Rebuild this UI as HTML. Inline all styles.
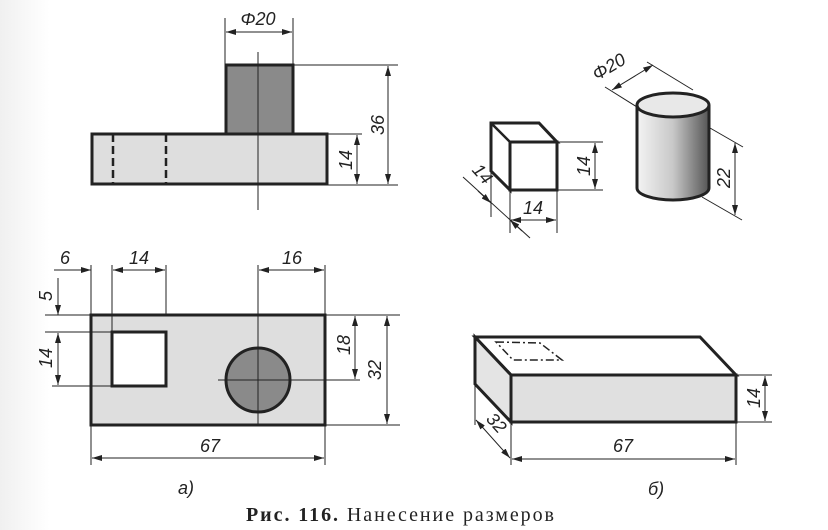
<!DOCTYPE html>
<html><head><meta charset="utf-8"><style>
html,body{margin:0;padding:0;background:#fff}
svg{display:block}
text{font-family:"Liberation Sans",sans-serif;font-style:italic;fill:#222}
</style></head><body>
<svg width="828" height="530" viewBox="0 0 828 530" xmlns="http://www.w3.org/2000/svg">
<defs>
<marker id="a" viewBox="0 0 10 6" refX="10" refY="3" markerWidth="10" markerHeight="6" orient="auto-start-reverse" markerUnits="userSpaceOnUse"><path d="M0,0 L10,3 L0,6 z" fill="#222"/></marker>
<linearGradient id="cyl" x1="0" x2="1" y1="0" y2="0"><stop offset="0" stop-color="#f4f4f4"/><stop offset="0.5" stop-color="#c8c8c8"/><stop offset="1" stop-color="#555"/></linearGradient>
<linearGradient id="bg" x1="0" x2="1"><stop offset="0" stop-color="#f0f0f0"/><stop offset="0.06" stop-color="#fff"/></linearGradient>
</defs>
<rect width="828" height="530" fill="url(#bg)"/>
<g stroke="#222" fill="none" stroke-width="1">
<rect x="92" y="134" width="235" height="50" fill="#dedede" stroke-width="3"/>
<rect x="226" y="65" width="67" height="69" fill="#8a8a8a" stroke-width="3"/>
<line x1="113" y1="134" x2="113" y2="184" stroke-width="2.5" stroke-dasharray="8,4"/>
<line x1="166" y1="134" x2="166" y2="184" stroke-width="2.5" stroke-dasharray="8,4"/>
<line x1="258" y1="52" x2="258" y2="210"/>
<line x1="225" y1="18" x2="225" y2="65"/><line x1="293" y1="18" x2="293" y2="65"/>
<line x1="226" y1="32" x2="292" y2="32" marker-start="url(#a)" marker-end="url(#a)"/>
<line x1="293" y1="65" x2="398" y2="65"/><line x1="327" y1="185" x2="398" y2="185"/>
<line x1="327" y1="134" x2="362" y2="134"/>
<line x1="388" y1="66" x2="388" y2="184" marker-start="url(#a)" marker-end="url(#a)"/>
<line x1="357" y1="135" x2="357" y2="184" marker-start="url(#a)" marker-end="url(#a)"/>
<rect x="91" y="315" width="234" height="110" fill="#dedede" stroke-width="3"/>
<rect x="112" y="332" width="54" height="54" fill="#fff" stroke-width="3"/>
<circle cx="258" cy="380" r="32" fill="#8a8a8a" stroke-width="3"/>
<line x1="258" y1="265" x2="258" y2="425"/>
<line x1="218" y1="380" x2="360" y2="380"/>
<line x1="91" y1="265" x2="91" y2="465"/><line x1="112" y1="265" x2="112" y2="332"/>
<line x1="166" y1="265" x2="166" y2="315"/><line x1="325" y1="265" x2="325" y2="465"/>
<line x1="54" y1="270" x2="91" y2="270" marker-end="url(#a)"/>
<line x1="113" y1="270" x2="165" y2="270" marker-start="url(#a)" marker-end="url(#a)"/>
<line x1="259" y1="270" x2="324" y2="270" marker-start="url(#a)" marker-end="url(#a)"/>
<line x1="45" y1="315" x2="91" y2="315"/><line x1="45" y1="332" x2="112" y2="332"/>
<line x1="52" y1="386" x2="112" y2="386"/>
<line x1="58" y1="278" x2="58" y2="315" marker-end="url(#a)"/>
<line x1="58" y1="333" x2="58" y2="385" marker-start="url(#a)" marker-end="url(#a)"/>
<line x1="325" y1="315" x2="400" y2="315"/><line x1="325" y1="425" x2="400" y2="425"/>
<line x1="355" y1="316" x2="355" y2="379" marker-start="url(#a)" marker-end="url(#a)"/>
<line x1="387" y1="316" x2="387" y2="424" marker-start="url(#a)" marker-end="url(#a)"/>
<line x1="92" y1="458" x2="324" y2="458" marker-start="url(#a)" marker-end="url(#a)"/>
<polygon points="491,123 539,123 557,142 510,142 510,190 491,171" fill="#fff" stroke-width="3"/>
<line x1="491" y1="123" x2="510" y2="142" stroke-width="2.5"/>
<rect x="510" y="142" width="47" height="48" fill="#fff" stroke-width="3"/>
<line x1="557" y1="142" x2="603" y2="142"/><line x1="557" y1="190" x2="603" y2="190"/>
<line x1="595" y1="143" x2="595" y2="189" marker-start="url(#a)" marker-end="url(#a)"/>
<line x1="510" y1="190" x2="510" y2="233"/><line x1="557" y1="190" x2="557" y2="233"/>
<line x1="491" y1="171" x2="491" y2="217"/>
<line x1="511" y1="220" x2="556" y2="220" marker-start="url(#a)" marker-end="url(#a)"/>
<line x1="463" y1="177" x2="530" y2="238"/>
<line x1="478" y1="191" x2="491" y2="203" marker-end="url(#a)"/>
<line x1="522" y1="231" x2="510" y2="220" marker-end="url(#a)"/>
<path d="M637,105 L637,188 A36,12 0 0 0 709,188 L709,105" fill="url(#cyl)" stroke-width="3"/>
<ellipse cx="673" cy="105" rx="36" ry="12" fill="#e8e8e8" stroke-width="3"/>
<line x1="647" y1="62" x2="693" y2="90"/><line x1="605" y1="87" x2="637" y2="107"/>
<line x1="612" y1="90" x2="653" y2="65" marker-start="url(#a)" marker-end="url(#a)"/>
<line x1="710" y1="128" x2="743" y2="147"/><line x1="702" y1="197" x2="742" y2="220"/>
<line x1="735" y1="143" x2="735" y2="215" marker-start="url(#a)" marker-end="url(#a)"/>
<polygon points="475,337 700,337 736,375 511,375" fill="#fff" stroke-width="3"/>
<polygon points="475,337 511,375 511,422 475,384" fill="#e4e4e4" stroke-width="3"/>
<rect x="511" y="375" width="225" height="47" fill="#e0e0e0" stroke-width="3"/>
<polygon points="496,342 540,343 562,360 513,360" stroke-width="1.5" stroke-dasharray="8,3,2,3"/>
<line x1="736" y1="375" x2="772" y2="375"/><line x1="736" y1="422" x2="772" y2="422"/>
<line x1="765" y1="376" x2="765" y2="421" marker-start="url(#a)" marker-end="url(#a)"/>
<line x1="511" y1="422" x2="511" y2="465"/><line x1="736" y1="422" x2="736" y2="465"/>
<line x1="475" y1="384" x2="475" y2="425"/>
<line x1="512" y1="459" x2="735" y2="459" marker-start="url(#a)" marker-end="url(#a)"/>
<line x1="476" y1="420" x2="510" y2="458" marker-start="url(#a)" marker-end="url(#a)"/>
</g>
<g font-size="18">
<text x="258" y="25" text-anchor="middle">Φ20</text>
<text transform="translate(384,125) rotate(-90)" text-anchor="middle">36</text>
<text transform="translate(352,160) rotate(-90)" text-anchor="middle">14</text>
<text x="65" y="264" text-anchor="middle">6</text>
<text x="139" y="264" text-anchor="middle">14</text>
<text x="292" y="264" text-anchor="middle">16</text>
<text transform="translate(52,296) rotate(-90)" text-anchor="middle">5</text>
<text transform="translate(52,358) rotate(-90)" text-anchor="middle">14</text>
<text transform="translate(350,345) rotate(-90)" text-anchor="middle">18</text>
<text transform="translate(381,370) rotate(-90)" text-anchor="middle">32</text>
<text x="210" y="452" text-anchor="middle">67</text>
<text x="186" y="494" text-anchor="middle">a)</text>
<text transform="translate(590,166) rotate(-90)" text-anchor="middle">14</text>
<text x="533" y="214" text-anchor="middle">14</text>
<text transform="translate(478,178) rotate(48)" text-anchor="middle">14</text>
<text transform="translate(612,72) rotate(-31)" text-anchor="middle">Φ20</text>
<text transform="translate(730,178) rotate(-90)" text-anchor="middle">22</text>
<text transform="translate(760,398) rotate(-90)" text-anchor="middle">14</text>
<text x="623" y="452" text-anchor="middle">67</text>
<text transform="translate(492,427) rotate(48)" text-anchor="middle">32</text>
<text x="656" y="495" text-anchor="middle">б)</text>
</g>
<text x="246" y="521" font-size="20" textLength="308" lengthAdjust="spacing" style="font-family:'Liberation Serif',serif;font-style:normal"><tspan font-weight="bold">Рис. 116.</tspan> Нанесение размеров</text>
</svg>
</body></html>
